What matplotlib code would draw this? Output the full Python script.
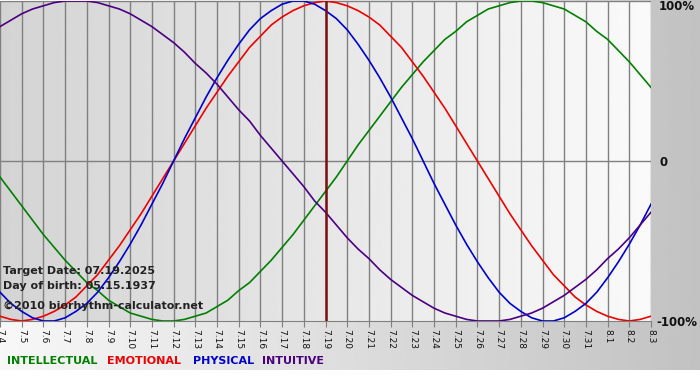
import numpy as np
import matplotlib
matplotlib.use('Agg')
import matplotlib.pyplot as plt

# day labels, 07.04 .. 08.03
days = ['7.4', '7.5', '7.6', '7.7', '7.8', '7.9', '7.10', '7.11', '7.12', '7.13',
        '7.14', '7.15', '7.16', '7.17', '7.18', '7.19', '7.20', '7.21', '7.22', '7.23',
        '7.24', '7.25', '7.26', '7.27', '7.28', '7.29', '7.30', '7.31', '8.1', '8.2', '8.3']

# curve values read every half day, from 7.4 to 8.3
physical = [-0.82, -0.89, -0.94, -0.98, -1.00, -1.00, -0.98, -0.94, -0.89, -0.82, -0.73,
            -0.63, -0.52, -0.40, -0.27, -0.14,
            0.00, 0.14, 0.27, 0.40, 0.52, 0.63, 0.73, 0.82, 0.89, 0.94, 0.98, 1.00,
            1.00, 0.98, 0.94, 0.89, 0.82, 0.73, 0.63, 0.52, 0.40, 0.27, 0.14,
            0.00, -0.14, -0.27, -0.40, -0.52, -0.63, -0.73, -0.82, -0.89, -0.94, -0.98,
            -1.00, -1.00, -0.98, -0.94, -0.89, -0.82, -0.73, -0.63, -0.52, -0.40, -0.27]
emotional = [-0.97, -0.99, -1.00, -0.99, -0.97, -0.94, -0.90, -0.85, -0.78, -0.71, -0.62,
             -0.53, -0.43, -0.33, -0.22, -0.11,
             0.00, 0.11, 0.22, 0.33, 0.43, 0.53, 0.62, 0.71, 0.78, 0.85, 0.90, 0.94,
             0.97, 0.99, 1.00, 0.99, 0.97, 0.94, 0.90, 0.85, 0.78, 0.71, 0.62, 0.53,
             0.43, 0.33, 0.22, 0.11,
             0.00, -0.11, -0.22, -0.33, -0.43, -0.53, -0.62, -0.71, -0.78, -0.85, -0.90,
             -0.94, -0.97, -0.99, -1.00, -0.99, -0.97]
intellectual = [-0.10, -0.19, -0.28, -0.37, -0.46, -0.54, -0.62, -0.69, -0.76, -0.81,
                -0.87, -0.91, -0.95, -0.97, -0.99, -1.00, -1.00, -0.99, -0.97, -0.95,
                -0.91, -0.87, -0.81, -0.76, -0.69, -0.62, -0.54, -0.46, -0.37, -0.28,
                -0.19, -0.10,
                0.00, 0.10, 0.19, 0.28, 0.37, 0.46, 0.54, 0.62, 0.69, 0.76, 0.81, 0.87,
                0.91, 0.95, 0.97, 0.99, 1.00, 1.00, 0.99, 0.97, 0.95, 0.91, 0.87, 0.81,
                0.76, 0.69, 0.62, 0.54, 0.46]
intuitive = [0.84, 0.88, 0.92, 0.95, 0.97, 0.99, 1.00, 1.00, 1.00, 0.99, 0.97, 0.95,
             0.92, 0.88, 0.84, 0.79, 0.74, 0.68, 0.61, 0.55, 0.48, 0.40, 0.32, 0.25,
             0.16, 0.08,
             0.00, -0.08, -0.16, -0.25, -0.32, -0.40, -0.48, -0.55, -0.61, -0.68, -0.74,
             -0.79, -0.84, -0.88, -0.92, -0.95, -0.97, -0.99, -1.00, -1.00, -1.00, -0.99,
             -0.97, -0.95, -0.92, -0.88, -0.84, -0.79, -0.74, -0.68, -0.61, -0.55, -0.48,
             -0.40, -0.32]

target_day = '7.19'
x = np.arange(len(days))
xh = np.arange(len(physical)) / 2

fig = plt.figure(figsize=(7, 3.8), dpi=100)

# background of the whole picture
bg = fig.add_axes([0, 0, 1, 1], zorder=0)
grad = np.linspace(0.97, 0.76, 256).reshape(1, -1)
bg.imshow(grad, cmap='gray', vmin=0, vmax=1, aspect='auto', extent=[0, 1, 10 / 380, 1])
bg.set_xlim(0, 1)
bg.set_ylim(0, 1)
bg.axis('off')

ax = fig.add_axes([0, 59 / 380, 651 / 700, 320 / 380], zorder=1)
ax.patch.set_alpha(0)
pgrad = np.linspace(0.83, 0.98, 256).reshape(1, -1)
ax.imshow(pgrad, cmap='gray', vmin=0, vmax=1, aspect='auto',
          extent=[0, len(days) - 1, -1.0, 1.0], zorder=0)

for xi in x:
    ax.axvline(xi, color='#808080', lw=1, zorder=1)
ax.axhline(0, color='#808080', lw=1, zorder=1)
ax.axhline(1.0, color='#808080', lw=1, zorder=1)

ax.plot(xh, intellectual, color='#008000', lw=1.2, zorder=3)
ax.plot(xh, emotional, color='#ee0000', lw=1.2, zorder=3)
ax.plot(xh, physical, color='#0000cc', lw=1.2, zorder=3)
ax.plot(xh, intuitive, color='#4b0082', lw=1.2, zorder=3)
ax.axvline(days.index(target_day), color='#7a1010', lw=1.8, zorder=4)

ax.set_xlim(0, len(days) - 1)
ax.set_ylim(-1.0, 1.0)
ax.set_xticks(x)
ax.set_xticklabels(days, rotation=270, fontsize=6.5, color='#111111')
ax.tick_params(axis='x', length=4, color='#808080', pad=2)
ax.set_yticks([])
for s in ['top', 'left', 'right']:
    ax.spines[s].set_visible(False)
ax.spines['bottom'].set_color('#808080')

fig.text(659 / 700, 1 - 7 / 380, '100%', fontsize=8.5, fontweight='bold', va='center', ha='left', color='#111111')
fig.text(659 / 700, 1 - 162 / 380, '0', fontsize=8.5, fontweight='bold', va='center', ha='left', color='#111111')
fig.text(656 / 700, 1 - 322 / 380, '-100%', fontsize=8.5, fontweight='bold', va='center', ha='left', color='#111111')

fig.text(3 / 700, 1 - 271 / 380, 'Target Date: 07.19.2025', fontsize=8, fontweight='bold',
         va='center', ha='left', color='#222222', zorder=5)
fig.text(3 / 700, 1 - 286 / 380, 'Day of birth: 05.15.1937', fontsize=8, fontweight='bold',
         va='center', ha='left', color='#222222', zorder=5)
fig.text(3 / 700, 1 - 306 / 380, '\u00a92010 biorhythm-calculator.net', fontsize=8, fontweight='bold',
         va='center', ha='left', color='#222222', zorder=5)

legend_items = [('INTELLECTUAL', '#008000', 7), ('EMOTIONAL', '#ee0000', 107),
                ('PHYSICAL', '#0000cc', 193), ('INTUITIVE', '#4b0082', 262)]
for name, col, px in legend_items:
    fig.text(px / 700, 1 - 361 / 380, name, fontsize=8, fontweight='bold', color=col,
             va='center', ha='left')

fig.savefig('out.png', dpi=100)
